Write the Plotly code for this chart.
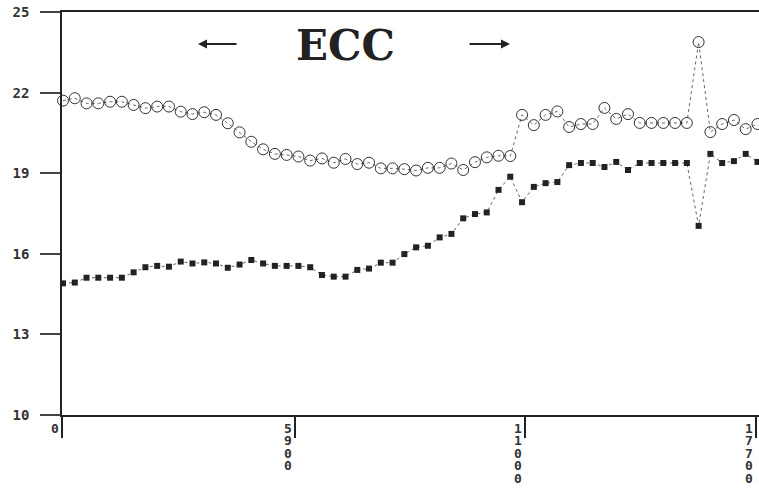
import plotly.graph_objects as go

# ---- data ----
point_index = list(range(60))

ecc_open = [
    21.70, 21.79, 21.60, 21.60, 21.66, 21.66, 21.54, 21.42, 21.48, 21.48,
    21.29, 21.20, 21.27, 21.17, 20.86, 20.52, 20.17, 19.89, 19.72, 19.68,
    19.62, 19.47, 19.55, 19.39, 19.53, 19.34, 19.39, 19.18, 19.18, 19.15,
    19.10, 19.20, 19.20, 19.36, 19.12, 19.41, 19.59, 19.65, 19.64,
    21.17, 20.79, 21.17, 21.30, 20.72, 20.83, 20.83, 21.43, 21.02, 21.20,
    20.87, 20.87, 20.87, 20.87, 20.87, 23.88, 20.53, 20.83, 20.98, 20.64, 20.83,
]

ecc_filled = [
    14.90, 14.93, 15.11, 15.11, 15.11, 15.11, 15.31, 15.50, 15.55, 15.52,
    15.71, 15.64, 15.68, 15.64, 15.48, 15.60, 15.77, 15.64, 15.55, 15.55,
    15.55, 15.50, 15.21, 15.15, 15.15, 15.40, 15.45, 15.67, 15.67, 15.99,
    16.24, 16.30, 16.61, 16.74, 17.32, 17.48, 17.54, 18.38, 18.87,
    17.92, 18.49, 18.63, 18.67, 19.30, 19.38, 19.38, 19.23, 19.42, 19.12,
    19.38, 19.38, 19.38, 19.38, 19.38, 17.04, 19.72, 19.38, 19.45, 19.72, 19.42,
]

y_tick_values = [10, 13, 16, 19, 22, 25]
x_tick_labels = ["0", "5900", "11000", "17700"]
x_tick_at_point = [-0.08, 19.7, 39.25, 58.9]

title_text = "ECC"

# ---- figure ----
W, H = 759, 490
PL, PT, PB = 62, 12, 490 - 415
PW = W - PL
PH = H - PT - PB


def px_x(p):
    return (p - PL) / PW


def px_y(p):
    return (H - PB - p) / PH


fig = go.Figure()

fig.add_trace(go.Scatter(
    x=point_index, y=ecc_open, mode="lines+markers",
    line=dict(color="#666666", width=1, dash="dot"),
    marker=dict(symbol="circle-open", size=11, color="#333333",
                line=dict(width=1, color="#333333")),
    cliponaxis=False, showlegend=False,
))
fig.add_trace(go.Scatter(
    x=point_index, y=ecc_filled, mode="lines+markers",
    line=dict(color="#666666", width=1, dash="dot"),
    marker=dict(symbol="square", size=6, color="#222222"),
    cliponaxis=False, showlegend=False,
))

axis_font = dict(family="DejaVu Sans Mono", size=14, color="#333333")

fig.update_layout(
    width=W, height=H,
    margin=dict(l=PL, r=0, t=PT, b=PB),
    paper_bgcolor="white", plot_bgcolor="white",
    xaxis=dict(
        range=[-0.085, 59.13], automargin=False,
        showgrid=False, zeroline=False,
        showline=True, linecolor="#222222", linewidth=1.5, mirror=True,
        tickmode="array", tickvals=x_tick_at_point,
        ticktext=["" for _ in x_tick_labels],
        ticks="outside", ticklen=21, tickwidth=1.5, tickcolor="#222222",
    ),
    yaxis=dict(
        range=[10, 25], automargin=False,
        showgrid=False, zeroline=False,
        showline=True, linecolor="#222222", linewidth=1.5,
        tickmode="array", tickvals=y_tick_values,
        ticktext=["<b>%d</b>" % v for v in y_tick_values],
        ticks="outside", ticklen=20, tickwidth=1.5, tickcolor="#444444",
        tickfont=axis_font, ticklabelstandoff=8,
    ),
)

annotations = []
for pos, label in zip(x_tick_at_point, x_tick_labels):
    for i, ch in enumerate(label):
        annotations.append(dict(
            x=pos, xref="x", y=0, yref="paper",
            xanchor="center", yanchor="top",
            xshift=-7, yshift=-5 - i * 12.4,
            text="<b>%s</b>" % ch, showarrow=False,
            font=dict(family="DejaVu Sans Mono", size=13, color="#333333"),
            borderpad=0,
        ))

annotations.append(dict(
    x=px_x(345), xref="paper", y=px_y(45), yref="paper",
    xanchor="center", yanchor="middle",
    text="<b>%s</b>" % title_text, showarrow=False,
    font=dict(family="DejaVu Serif", size=42, color="#222222"),
))
# direction arrows beside the title
annotations.append(dict(
    x=px_x(198), xref="paper", y=px_y(44), yref="paper",
    ax=40, ay=0, text="", showarrow=True,
    arrowhead=2, arrowsize=1, arrowwidth=1.8, arrowcolor="#222222",
))
annotations.append(dict(
    x=px_x(510), xref="paper", y=px_y(44), yref="paper",
    ax=-42, ay=0, text="", showarrow=True,
    arrowhead=2, arrowsize=1, arrowwidth=1.8, arrowcolor="#222222",
))

fig.update_layout(annotations=annotations)

# remove the default 8px page margin so the figure sits at the window corner
fig.write_html("out.html",
               config={"displayModeBar": False},
               post_script="document.body.style.margin='0';"
                           "document.body.style.overflow='hidden';")
